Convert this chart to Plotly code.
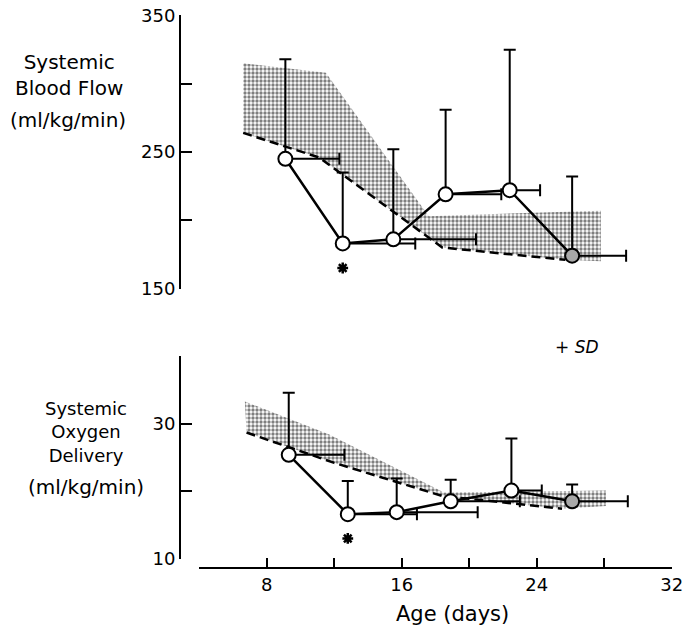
import plotly.graph_objects as go

# ---------------- data ----------------
# Systemic blood flow (ml/kg/min)
flow_age = [9.1, 12.5, 15.5, 18.6, 22.4, 26.1]
flow_age_sd = [3.2, 4.3, 4.9, 3.3, 1.8, 3.2]
flow_mean = [245, 183, 186, 219, 222, 174]
flow_sd = [73, 52, 66, 62, 103, 58]

# normal range band for blood flow (upper edge and dashed lower edge)
flow_band_upper_x = [6.6, 11.5, 17.6, 27.8]
flow_band_upper_y = [315, 308, 203, 207]
flow_band_lower_x = [6.6, 11.1, 18.4, 25.7, 27.8]
flow_band_lower_y = [264, 246, 180, 171, 170]
flow_dash_x = [6.6, 11.1, 18.4, 25.7]
flow_dash_y = [264, 246, 180, 171]

# Systemic oxygen delivery (ml/kg/min)
o2_age = [9.3, 12.8, 15.7, 18.9, 22.5, 26.1]
o2_age_sd = [3.3, 4.1, 4.8, 4.1, 1.8, 3.3]
o2_mean = [25.4, 16.6, 16.9, 18.5, 20.1, 18.5]
o2_sd = [9.2, 4.9, 5.0, 3.2, 7.7, 2.5]

o2_band_upper_x = [6.7, 11.7, 18.5, 28.1]
o2_band_upper_y = [33.3, 28.4, 19.8, 20.1]
o2_band_lower_x = [6.8, 12.0, 18.4, 25.5, 28.1]
o2_band_lower_y = [28.7, 24.2, 19.3, 17.4, 17.8]
o2_dash_x = [6.8, 12.0, 18.4, 25.5]
o2_dash_y = [28.7, 24.2, 19.3, 17.4]

# significance markers (at second point)
star_flow = (12.5, 165)
star_o2 = (12.8, 13.0)

# axes
x_range = [3.98, 32.02]
x_tickvals = [4, 8, 12, 16, 20, 24, 28, 32]
x_ticktext = ["", "8", "", "16", "", "24", "", "32"]
flow_range = [149.6, 350.4]
flow_tickvals = [150, 200, 250, 300, 350]
flow_ticktext = ["150", "", "250", "", "350"]
o2_range = [9.95, 40.05]
o2_tickvals = [10, 20, 30, 40]
o2_ticktext = ["10", "", "30", ""]

# ---------------- layout helpers ----------------
W, H = 683, 626
ML, MR, MT, MB = 180, 11, 15, 58
PW, PH = W - ML - MR, H - MT - MB


def px(p):
    return (p - ML) / PW


def py(p):
    return (H - MB - p) / PH


FONT = "DejaVu Sans"
BAND = dict(shape=".", size=4, solidity=0.55, fgcolor="black", bgcolor="white")

fig = go.Figure()


def add_panel(xa, ya, ux, uy, lx, ly, dx, dy, age, age_sd, mean, sd, star):
    bx = list(ux) + list(lx[::-1])
    by = list(uy) + list(ly[::-1])
    fig.add_trace(go.Scatter(x=bx, y=by, xaxis=xa, yaxis=ya, mode="none",
                             fill="toself", fillcolor="rgba(0,0,0,0)",
                             fillpattern=BAND, hoverinfo="skip", showlegend=False))
    fig.add_trace(go.Scatter(x=dx, y=dy, xaxis=xa, yaxis=ya, mode="lines",
                             line=dict(color="black", width=2.5, dash="9px,5px"),
                             showlegend=False))
    colors = ["white"] * (len(age) - 1) + ["#a8a8a8"]
    fig.add_trace(go.Scatter(
        x=age, y=mean, xaxis=xa, yaxis=ya, mode="lines+markers",
        line=dict(color="black", width=2.5),
        marker=dict(size=14, color=colors, line=dict(color="black", width=2)),
        error_y=dict(type="data", symmetric=False, array=sd,
                     arrayminus=[0] * len(sd), color="black", thickness=2, width=6),
        error_x=dict(type="data", symmetric=False, array=age_sd,
                     arrayminus=[0] * len(age_sd), color="black", thickness=2, width=6),
        showlegend=False))
    fig.add_trace(go.Scatter(x=[star[0]], y=[star[1]], xaxis=xa, yaxis=ya,
                             mode="markers",
                             marker=dict(symbol="asterisk-open", size=9, color="black",
                                         line=dict(color="black", width=2.5)),
                             showlegend=False))


add_panel("x", "y", flow_band_upper_x, flow_band_upper_y, flow_band_lower_x,
          flow_band_lower_y, flow_dash_x, flow_dash_y, flow_age, flow_age_sd,
          flow_mean, flow_sd, star_flow)
add_panel("x2", "y2", o2_band_upper_x, o2_band_upper_y, o2_band_lower_x,
          o2_band_lower_y, o2_dash_x, o2_dash_y, o2_age, o2_age_sd,
          o2_mean, o2_sd, star_o2)

xdom = [px(199), 1]
axis_common = dict(showgrid=False, zeroline=False, linecolor="black", linewidth=2,
                   ticks="inside", tickcolor="black", tickwidth=2, automargin=False,
                   tickfont=dict(family=FONT, size=18, color="black"))

fig.update_layout(
    width=W, height=H,
    margin=dict(l=ML, r=MR, t=MT, b=MB, autoexpand=False),
    paper_bgcolor="white", plot_bgcolor="white",
    font=dict(family=FONT, color="black"),
    xaxis=dict(domain=xdom, range=x_range, visible=False, matches="x2"),
    xaxis2=dict(domain=xdom, range=x_range, anchor="free", position=0,
                tickvals=x_tickvals, ticktext=x_ticktext, ticklen=9,
                ticklabeloverflow="allow",
                showline=True, **axis_common),
    yaxis=dict(domain=[py(289), 1], range=flow_range, anchor="free", position=0,
               tickvals=flow_tickvals, ticktext=flow_ticktext, ticklen=11,
               showline=True, **axis_common),
    yaxis2=dict(domain=[py(559), py(356)], range=o2_range, anchor="free", position=0,
                tickvals=o2_tickvals, ticktext=o2_ticktext, ticklen=11,
                showline=True, **axis_common),
)

ann = []


def text(t, x, y, size, italic=False):
    ann.append(dict(text=t, x=px(x), y=py(y), xref="paper", yref="paper",
                    showarrow=False, xanchor="center", yanchor="middle",
                    font=dict(family=FONT, size=size, color="black",
                              style="italic" if italic else "normal")))


text("Systemic<br>Blood Flow", 69, 75, 20)
text("(ml/kg/min)", 68, 120, 20)
text("Systemic<br>Oxygen<br>Delivery", 86, 432, 18)
text("(ml/kg/min)", 86, 487, 20)
text("Age (days)", 452, 614, 21)
text("+ SD", 577, 347, 17, italic=True)
fig.update_layout(annotations=ann)

fig.write_html("out.html")
